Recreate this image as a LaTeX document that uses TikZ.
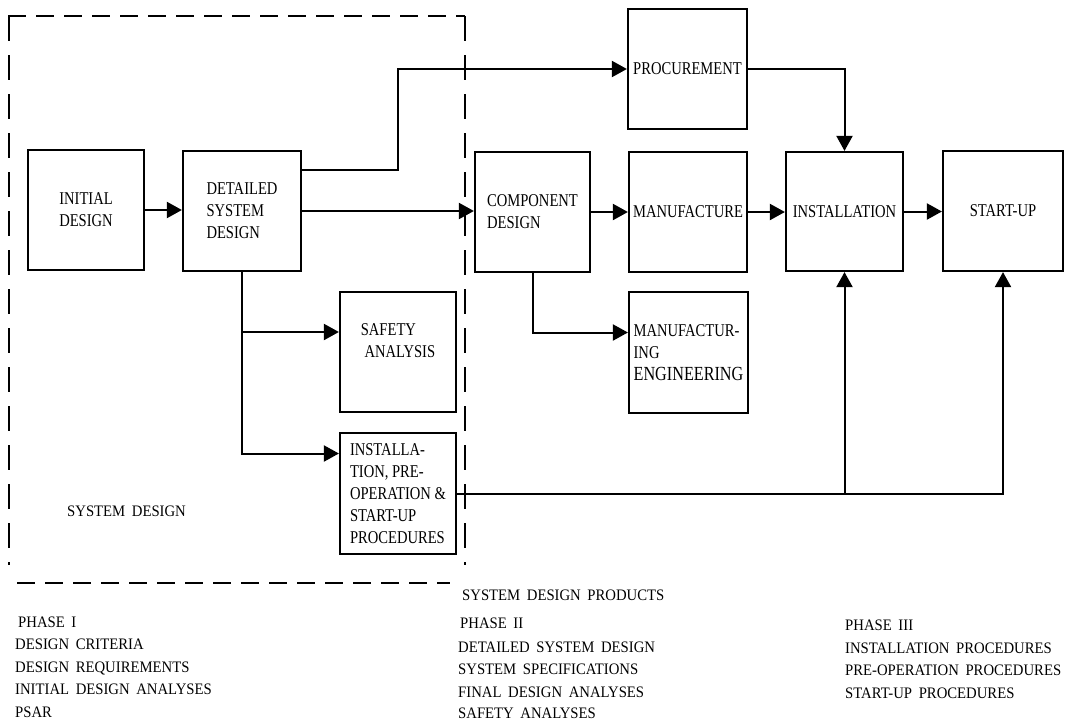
\documentclass[tikz,border=0pt]{standalone}
\usepackage{fontspec}
\setmainfont{Liberation Serif}
\newfontfamily\boxfont{Liberation Serif}[FakeStretch=0.81]
\newfontfamily\notefont{Liberation Serif}[FakeStretch=0.92,WordSpace=1.8]
\usetikzlibrary{arrows.meta}
\begin{document}
\begin{tikzpicture}[x=1pt,y=-1pt,
  blk/.style={draw, line width=2.2pt, inner sep=0pt, align=left,
    font={\boxfont\fontsize{18}{22}\selectfont}},
  arr/.style={line width=2pt, -{Triangle[length=15pt,width=16pt]}},
  dashh/.style={line width=2.6pt, dash pattern=on 18pt off 10pt},
  dashv/.style={line width=2.6pt, dash pattern=on 25pt off 14pt},
  note/.style={anchor=base west, inner sep=0pt,
    font={\notefont\fontsize{16}{19}\selectfont}}]
\useasboundingbox (0,0) rectangle (1065,720);

% dashed system-design frame
\draw[dashh] (8,16) -- (465,16);
\draw[dashv] (9,16) -- (9,565);
\draw[dashv] (465,16) -- (465,565);
\draw[dashh] (17,583) -- (450,583);

% boxes
\node[blk, minimum width=116pt, minimum height=120pt] (init) at (86,210) {INITIAL\\DESIGN};
\node[blk, minimum width=118pt, minimum height=120pt] (dsd) at (242,211) {DETAILED\\SYSTEM\\DESIGN};
\node[blk, minimum width=119pt, minimum height=120pt] (proc) at (687.5,69) {PROCUREMENT};
\node[blk, minimum width=115pt, minimum height=120pt] (comp) at (532.5,212) {COMPONENT\\DESIGN};
\node[blk, minimum width=118pt, minimum height=120pt] (manu) at (688,212) {MANUFACTURE};
\node[blk, minimum width=117pt, minimum height=119pt] (inst) at (844.5,211.5) {INSTALLATION};
\node[blk, minimum width=120pt, minimum height=120pt] (start) at (1003,211) {START-UP};
\node[blk, minimum width=116pt, minimum height=120pt] (safe) at (398,352) {SAFETY\\\ ANALYSIS\\\mbox{}};
\node[blk, minimum width=119pt, minimum height=121pt] (mfge) at (688.5,352.5)
  {MANUFACTUR-\\ING\\{\fontsize{20}{22}\selectfont ENGINEERING}};
\node[blk, minimum width=116pt, minimum height=121pt] (ipro) at (398,493.5)
  {INSTALLA-\\TION, PRE-\\OPERATION \&\\START-UP\\PROCEDURES};

% connectors
\draw[arr] (init.east) -- (init.east -| dsd.west);
\draw[arr] (dsd.east) -- (dsd.east -| comp.west);
\draw[arr] ([yshift=41pt]dsd.east) -- ++(96,0) |- (proc.west);
\draw[arr] (dsd.south) |- ([yshift=20pt]safe.west);
\draw[arr] (dsd.south) |- ([yshift=40pt]ipro.west);
\draw[arr] (comp.east) -- (comp.east -| manu.west);
\draw[arr] (comp.south) |- ([yshift=20pt]mfge.west);
\draw[arr] (manu.east) -- (manu.east -| inst.west);
\draw[arr] (inst.east) -- (inst.east -| start.west);
\draw[arr] (proc.east) -| (inst.north);
\draw[arr] (ipro.east) -| (start.south);
\draw[arr] (ipro.east -| inst.south) -- (inst.south);

% labels
\node[note] (sdl) at (67,516) {SYSTEM DESIGN};

\node[note] (p1) at (18,627) {PHASE I};
\node[note] (p1a) at (15,649) {DESIGN CRITERIA};
\node[note] (p1b) at (15,672) {DESIGN REQUIREMENTS};
\node[note] (p1c) at (15,694) {INITIAL DESIGN ANALYSES};
\node[note] (p1d) at (15,717) {PSAR};

\node[note] (sdp) at (462,600) {SYSTEM DESIGN PRODUCTS};
\node[note] (p2) at (460,628) {PHASE II};
\node[note] (p2a) at (458,652) {DETAILED SYSTEM DESIGN};
\node[note] (p2b) at (458,674) {SYSTEM SPECIFICATIONS};
\node[note] (p2c) at (458,697) {FINAL DESIGN ANALYSES};
\node[note] (p2d) at (458,718) {SAFETY ANALYSES};

\node[note] (p3) at (845,630) {PHASE III};
\node[note] (p3a) at (845,653) {INSTALLATION PROCEDURES};
\node[note] (p3b) at (845,675) {PRE-OPERATION PROCEDURES};
\node[note] (p3c) at (845,698) {START-UP PROCEDURES};
\end{tikzpicture}
\end{document}
